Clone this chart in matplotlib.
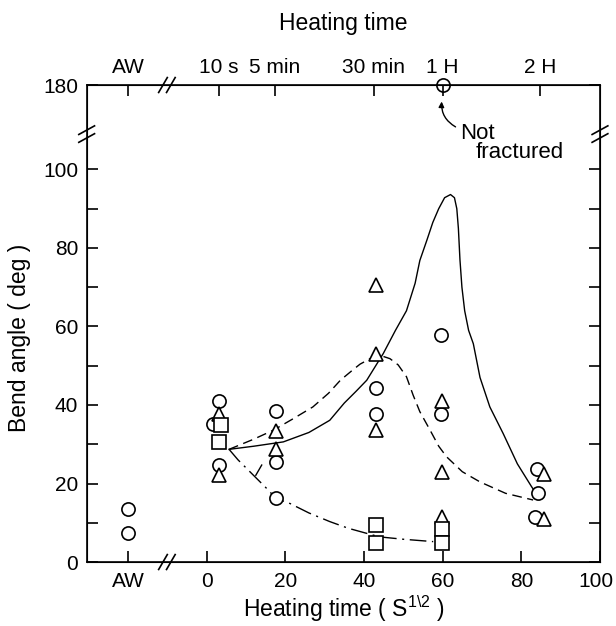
import numpy as np
import matplotlib.pyplot as plt
import matplotlib.transforms as mtransforms

plt.rcParams['font.family'] = ['Liberation Sans', 'DejaVu Sans']
plt.rcParams['mathtext.fontset'] = 'custom'
plt.rcParams['mathtext.rm'] = 'Liberation Sans'

# as-welded samples sit left of the axis break
AW_POS = -20
aw_circles = [13.5, 7.3]

circles_x = [3.2, 1.7, 3.2, 17.6, 17.6, 17.6, 43.0, 43.0, 59.7, 59.7, 83.9, 84.2, 83.5]
circles_y = [41.0, 35.1, 24.7, 38.5, 25.5, 16.2, 44.2, 37.7, 57.8, 37.8, 23.6, 17.5, 11.5]
triangles_x = [3.2, 3.2, 17.6, 17.6, 43.0, 43.0, 43.0, 59.9, 59.9, 59.9, 85.8, 85.8]
triangles_y = [37.8, 22.1, 33.4, 28.9, 70.5, 53.1, 33.6, 41.0, 23.0, 11.5, 22.3, 10.9]
squares_x = [3.7, 3.2, 43.0, 43.0, 59.9, 59.9]
squares_y = [34.9, 30.5, 9.4, 4.8, 8.3, 4.9]

# hand drawn trend curves
solid_x = [5.7, 12, 19.5, 26, 31.3, 35, 38, 40.7, 44.9, 48, 50.8, 53, 54.2, 56, 57.5,
           59, 60.5, 62, 63, 63.6, 64, 64.4, 64.9, 65.6, 66.6, 67.8, 69.5, 72, 75.4,
           79, 82.6, 83]
solid_y = [28.7, 29.5, 30.6, 33, 36.1, 40.5, 43.5, 46.3, 53.1, 59, 64, 71, 76.8, 82, 86.5,
           90, 92.8, 93.6, 92.8, 90, 85, 77, 70, 64, 59, 55.6, 47, 39.5, 32.7,
           25, 19.2, 18.6]
dashed_x = [5.7, 12, 17, 22, 27, 31, 34, 37, 39, 42.3, 44.5, 46.6, 48.7, 50.8, 52.5,
            54.2, 56.8, 59, 61, 65, 69.5, 76, 83]
dashed_y = [28.7, 31.3, 33.6, 36.5, 39.5, 43, 46.3, 48.8, 50.4, 52.2, 52.5, 51.8, 50.2,
            47.2, 42.5, 38.3, 33.6, 29.5, 26.8, 23, 20.4, 17.5, 15.8]
dashdot_x = [5.7, 8, 11.4, 15.7, 17.6, 21.2, 26, 31.3, 36, 40.7, 44, 50, 57.6]
dashdot_y = [28.7, 26, 22.6, 18.3, 16.2, 14.9, 12.5, 10.3, 8.6, 7.3, 6.4, 5.8, 5.2]

bottom_ticks = [AW_POS, 0, 20, 40, 60, 80, 100]
bottom_labels = ['AW', '0', '20', '40', '60', '80', '100']
top_ticks = [AW_POS, np.sqrt(10), np.sqrt(300), np.sqrt(1800), np.sqrt(3600), np.sqrt(7200)]
top_labels = ['AW', '10 s', '5 min', '30 min', '1 H', '2 H']

Y_TOP = 121.5

fig = plt.figure(figsize=(6.16, 6.26), dpi=100)
ax = fig.add_axes([0.1407, 0.1022, 0.9740 - 0.1407, 0.8642 - 0.1022])

lw = 1.0
ax.plot(solid_x, solid_y, color='black', lw=lw, zorder=2)
ax.plot(dashed_x, dashed_y, color='black', lw=lw, dashes=(7, 4), zorder=2)
ax.plot(dashdot_x, dashdot_y, color='black', lw=lw, dashes=(12, 4, 1.5, 4), zorder=2)
ax.plot([12.5, 14], [22.1, 24.7], color='black', lw=lw, zorder=2)

mk = dict(linestyle='none', markersize=9.5, markerfacecolor='white',
          markeredgecolor='black', markeredgewidth=1.2, zorder=3)
ax.plot([AW_POS] * len(aw_circles), aw_circles, marker='o', **mk)
ax.plot(circles_x, circles_y, marker='o', **mk)
ax.plot(triangles_x, triangles_y, marker='^', **mk)
ax.plot(squares_x, squares_y, marker='s', **mk)
# not fractured sample sits on the 180 line
ax.plot([60], [Y_TOP], marker='o', linestyle='none', markersize=9.5,
        markerfacecolor='none', markeredgecolor='black', markeredgewidth=1.2,
        clip_on=False, zorder=4)

ax.annotate('', xy=(59.8, 118.0), xytext=(63.9, 110.5),
            arrowprops=dict(arrowstyle='-|>', color='black', lw=1.0,
                            mutation_scale=8, connectionstyle='arc3,rad=-0.35'))
ax.text(64.4, 109.2, 'Not', fontsize=16, va='center', ha='left')
ax.text(68.5, 104.3, 'fractured', fontsize=16, va='center', ha='left')

ax.set_xlim(-30.5, 100)
ax.set_ylim(0, Y_TOP)
ax.set_xticks(bottom_ticks)
ax.set_xticklabels(bottom_labels)
yt = list(range(0, 101, 10)) + [Y_TOP]
ax.set_yticks(yt)
ax.set_yticklabels([str(v) if v % 20 == 0 else '' for v in range(0, 101, 10)] + ['180'])
ax.tick_params(direction='in', length=8, width=1.2, labelsize=15, right=True, pad=7)
ax.tick_params(axis='y', pad=6)
for s in ax.spines.values():
    s.set_linewidth(1.2)
# keep the "100" inside the picture
last = ax.get_xticklabels()[-1]
last.set_transform(last.get_transform() + mtransforms.ScaledTranslation(-4 / 100, 0, fig.dpi_scale_trans))

ax.set_xlabel('Heating time ( S$^{1\\backslash2}$ )', fontsize=16.5, labelpad=2)
ax.set_ylabel('Bend angle ( deg )', fontsize=16.5)
ax.yaxis.set_label_coords(-0.108, 0.47)

ax2 = ax.twiny()
ax2.set_xlim(ax.get_xlim())
ax2.set_xticks(top_ticks)
ax2.set_xticklabels(top_labels)
ax2.tick_params(direction='in', length=8, width=1.2, labelsize=15, pad=6)
ax2.set_xlabel('Heating time', fontsize=16.5, labelpad=20)

# axis break marks
bk = dict(color='black', lw=1.2, clip_on=False, zorder=5)
for yb in (0, Y_TOP):
    for dx in (-1.0, 1.0):
        ax.plot([-11.2 + dx, -9.0 + dx], [yb - 1.9, yb + 1.9], **bk)
for xb in (-30.5, 100):
    for dy in (-1.0, 1.0):
        ax.plot([xb - 2.0, xb + 2.0], [109 + dy - 1.1, 109 + dy + 1.1], **bk)

fig.savefig('out.png', dpi=100)
